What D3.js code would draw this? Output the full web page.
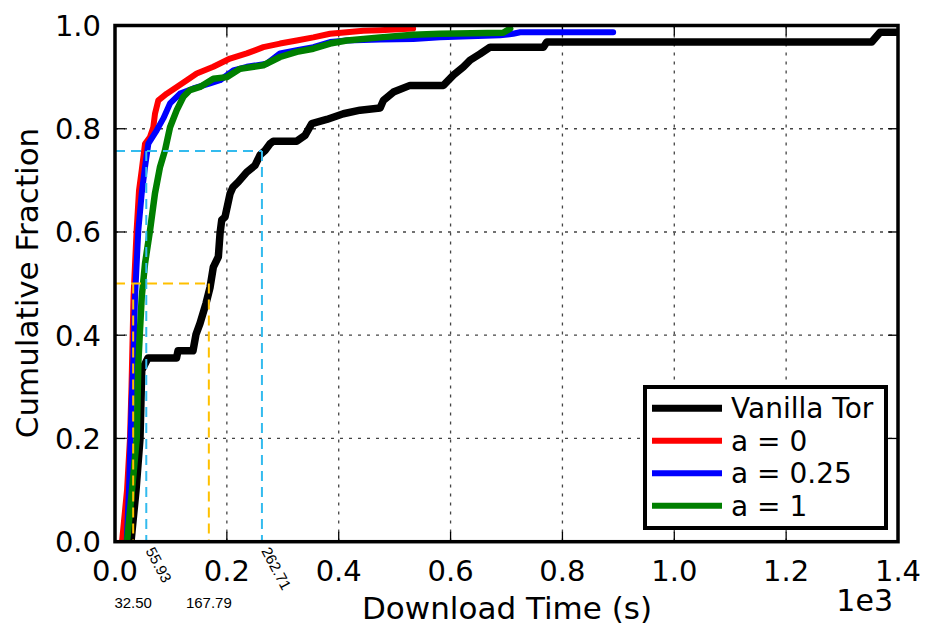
<!DOCTYPE html>
<html>
<head>
<meta charset="utf-8">
<script src="https://cdn.jsdelivr.net/npm/d3@7"></script>
<style>
  html, body { margin: 0; padding: 0; background: #fff; }
  svg { display: block; font-family: "DejaVu Sans", sans-serif; }
</style>
</head>
<body>
<svg id="chart" width="931" height="630"></svg>
<script>
// ---- data (download time in seconds, cumulative fraction) ----
const seriesNames = ["Vanilla Tor", "a = 0", "a = 0.25", "a = 1"];
const seriesColors = ["#000000", "#ff0000", "#0000ff", "#007f00"];

const vanillaTime = [28.6, 37.6, 44.7, 47.8, 59, 110, 112.7, 139.5, 144.9, 152, 162.8, 170, 175.8, 184.8, 187.8, 190.8, 196.7, 205.7, 211, 220.5, 235.6, 250.4, 259.3, 268.3, 277.2, 283.1, 325, 339.8, 351.8, 378.6, 408.3, 438.2, 474, 479.9, 497.8, 527.6, 587.2, 605, 623, 635, 652.8, 670.7, 766, 772, 1353, 1368, 1398];
const vanillaFrac = [0, 0.1, 0.2, 0.332, 0.356, 0.356, 0.37, 0.37, 0.402, 0.423, 0.462, 0.493, 0.532, 0.552, 0.597, 0.623, 0.629, 0.674, 0.687, 0.697, 0.716, 0.729, 0.749, 0.758, 0.771, 0.776, 0.776, 0.787, 0.81, 0.818, 0.829, 0.836, 0.84, 0.855, 0.871, 0.884, 0.884, 0.904, 0.92, 0.933, 0.945, 0.958, 0.958, 0.968, 0.968, 0.987, 0.987];

const a0Time = [12.5, 21.5, 26.8, 29.5, 33.1, 38.5, 42.9, 47.8, 53.7, 62.6, 68.5, 71.5, 77.5, 92.5, 110.5, 128.4, 146.1, 175.8, 205.7, 235.6, 265.3, 295.1, 325, 354.7, 384.5, 414.4, 444.1, 474, 533];
const a0Frac = [0, 0.1, 0.2, 0.3, 0.474, 0.6, 0.68, 0.72, 0.771, 0.784, 0.803, 0.829, 0.855, 0.868, 0.881, 0.894, 0.907, 0.92, 0.936, 0.946, 0.958, 0.965, 0.971, 0.977, 0.984, 0.987, 0.99, 0.991, 0.994];

const a025Time = [20.9, 25, 29.9, 32.7, 35.8, 41.7, 47.8, 53.7, 59.6, 74.6, 86.4, 98.4, 116.3, 140, 169.9, 187.8, 211.6, 235.6, 271.3, 295.1, 325, 354.7, 384.5, 414.4, 474, 533.5, 581.3, 688.6, 711.9, 724.4, 890.7];
const a025Frac = [0, 0.1, 0.274, 0.345, 0.474, 0.603, 0.675, 0.726, 0.771, 0.797, 0.82, 0.849, 0.868, 0.878, 0.888, 0.894, 0.913, 0.92, 0.926, 0.946, 0.952, 0.958, 0.968, 0.971, 0.973, 0.974, 0.977, 0.981, 0.984, 0.987, 0.987];

const a1Time = [21.5, 30.4, 38.8, 41.7, 44.7, 47.8, 53.7, 62.6, 71.5, 80.5, 89.4, 98.4, 110.4, 122.2, 134.1, 152, 175.8, 199.8, 223.6, 265.3, 295.1, 325, 354.7, 384.5, 414.4, 474, 533.5, 581.3, 694, 706.5];
const a1Frac = [0, 0.1, 0.2, 0.345, 0.41, 0.474, 0.539, 0.603, 0.675, 0.726, 0.758, 0.803, 0.836, 0.862, 0.875, 0.881, 0.897, 0.9, 0.916, 0.923, 0.939, 0.949, 0.955, 0.965, 0.971, 0.977, 0.982, 0.984, 0.986, 0.994];

const xTicks = [0, 0.2, 0.4, 0.6, 0.8, 1.0, 1.2, 1.4];
const yTicks = [0, 0.2, 0.4, 0.6, 0.8, 1.0];

// annotation markers (seconds, fraction)
const medianMarks = [32.50, 167.79];       // at fraction 0.5
const q75Marks = [55.93, 262.71];          // at fraction 0.757
const medianFrac = 0.5;
const q75Frac = 0.757;

// ---- layout ----
const svg = d3.select("#chart");
const pL = 115, pR = 898, pT = 25.5, pB = 541.7;
const x = d3.scaleLinear().domain([0, 1.4]).range([pL, pR]);
const y = d3.scaleLinear().domain([0, 1]).range([pB, pT]);
const xs = s => x(s / 1000);

const plot = svg.append("g");
svg.append("clipPath").attr("id", "clip")
  .append("rect").attr("x", pL).attr("y", pT).attr("width", pR - pL).attr("height", pB - pT);

// grid
const gridG = plot.append("g");
xTicks.slice(1, -1).forEach(t => {
  gridG.append("line").attr("x1", x(t)).attr("x2", x(t)).attr("y1", pT).attr("y2", pB)
    .attr("stroke", "#444").attr("stroke-width", 1.3).attr("stroke-dasharray", "3,6");
});
yTicks.slice(1, -1).forEach(t => {
  gridG.append("line").attr("x1", pL).attr("x2", pR).attr("y1", y(t)).attr("y2", y(t))
    .attr("stroke", "#444").attr("stroke-width", 1.3).attr("stroke-dasharray", "3,6");
});

// ticks (inside, all four sides)
const tickLen = 10;
xTicks.forEach(t => {
  plot.append("line").attr("x1", x(t)).attr("x2", x(t)).attr("y1", pB).attr("y2", pB - tickLen).attr("stroke", "#000").attr("stroke-width", 1.3);
  plot.append("line").attr("x1", x(t)).attr("x2", x(t)).attr("y1", pT).attr("y2", pT + tickLen).attr("stroke", "#000").attr("stroke-width", 1.3);
});
yTicks.forEach(t => {
  plot.append("line").attr("x1", pL).attr("x2", pL + tickLen).attr("y1", y(t)).attr("y2", y(t)).attr("stroke", "#000").attr("stroke-width", 1.3);
  plot.append("line").attr("x1", pR).attr("x2", pR - tickLen).attr("y1", y(t)).attr("y2", y(t)).attr("stroke", "#000").attr("stroke-width", 1.3);
});

// curves
const allSeries = [
  {t: vanillaTime, f: vanillaFrac, w: 7.5},
  {t: a0Time, f: a0Frac, w: 6},
  {t: a025Time, f: a025Frac, w: 6},
  {t: a1Time, f: a1Frac, w: 6.5}
];
const line = d3.line().x(d => xs(d[0])).y(d => y(d[1])).curve(d3.curveLinear);
const curveG = plot.append("g").attr("clip-path", "url(#clip)");
allSeries.forEach((s, i) => {
  const pts = s.t.map((v, k) => [v, s.f[k]]);
  curveG.append("path").datum(pts).attr("d", line)
    .attr("fill", "none").attr("stroke", seriesColors[i]).attr("stroke-width", s.w)
    .attr("stroke-linejoin", "round").attr("stroke-linecap", "round");
});

// annotation dashed lines
const yellow = "#ffc000", cyan = "#33bbee";
const annG = plot.append("g");
function dash(x1, y1, x2, y2, c) {
  annG.append("line").attr("x1", x1).attr("y1", y1).attr("x2", x2).attr("y2", y2)
    .attr("stroke", c).attr("stroke-width", 2).attr("stroke-dasharray", "10,6");
}
dash(pL, y(medianFrac), xs(medianMarks[1]), y(medianFrac), yellow);
medianMarks.forEach(m => dash(xs(m), y(medianFrac), xs(m), pB, yellow));
dash(pL, y(q75Frac), xs(q75Marks[1]), y(q75Frac), cyan);
q75Marks.forEach(m => dash(xs(m), y(q75Frac), xs(m), pB, cyan));

// frame
plot.append("rect").attr("x", pL).attr("y", pT).attr("width", pR - pL).attr("height", pB - pT)
  .attr("fill", "none").attr("stroke", "#000").attr("stroke-width", 3.5);

// tick labels
const fmt = d3.format(".1f");
xTicks.forEach(t => {
  svg.append("text").attr("x", x(t)).attr("y", 581).attr("text-anchor", "middle")
    .attr("font-size", 29).attr("fill", "#000").text(fmt(t));
});
yTicks.forEach(t => {
  svg.append("text").attr("x", 101).attr("y", y(t) + 10.5).attr("text-anchor", "end")
    .attr("font-size", 29).attr("fill", "#000").text(fmt(t));
});

// axis titles
svg.append("text").attr("x", 507).attr("y", 619).attr("text-anchor", "middle")
  .attr("font-size", 31).attr("fill", "#000").text("Download Time (s)");
svg.append("text").attr("transform", "translate(38,283) rotate(-90)").attr("text-anchor", "middle")
  .attr("font-size", 31).attr("fill", "#000").text("Cumulative Fraction");
svg.append("text").attr("x", 893).attr("y", 611).attr("text-anchor", "end")
  .attr("font-size", 30).attr("fill", "#000").text("1e3");

// annotation labels
const annFont = "'Liberation Sans', Arial, sans-serif";
medianMarks.forEach(m => {
  svg.append("text").attr("x", xs(m)).attr("y", 608).attr("text-anchor", "middle")
    .attr("font-family", annFont).attr("font-size", 15).attr("fill", "#000").text(m.toFixed(2));
});
q75Marks.forEach(m => {
  svg.append("text").attr("transform", `translate(${xs(m) - 1},${pB + 9}) rotate(62)`)
    .attr("font-family", annFont).attr("font-size", 15).attr("fill", "#000").text(m.toFixed(2));
});

// legend
const lg = svg.append("g");
const lx = 645, ly = 387, lw = 241, lh = 141;
lg.append("rect").attr("x", lx).attr("y", ly).attr("width", lw).attr("height", lh)
  .attr("fill", "#fff").attr("stroke", "#000").attr("stroke-width", 4);
seriesNames.forEach((n, i) => {
  const yy = 408.3 + i * 32.5;
  lg.append("line").attr("x1", 652).attr("x2", 722).attr("y1", yy).attr("y2", yy)
    .attr("stroke", seriesColors[i]).attr("stroke-width", i === 0 ? 7 : 6);
  lg.append("text").attr("x", 731).attr("y", yy + 10).attr("font-size", 28).attr("fill", "#000").text(n);
});
</script>
</body>
</html>
